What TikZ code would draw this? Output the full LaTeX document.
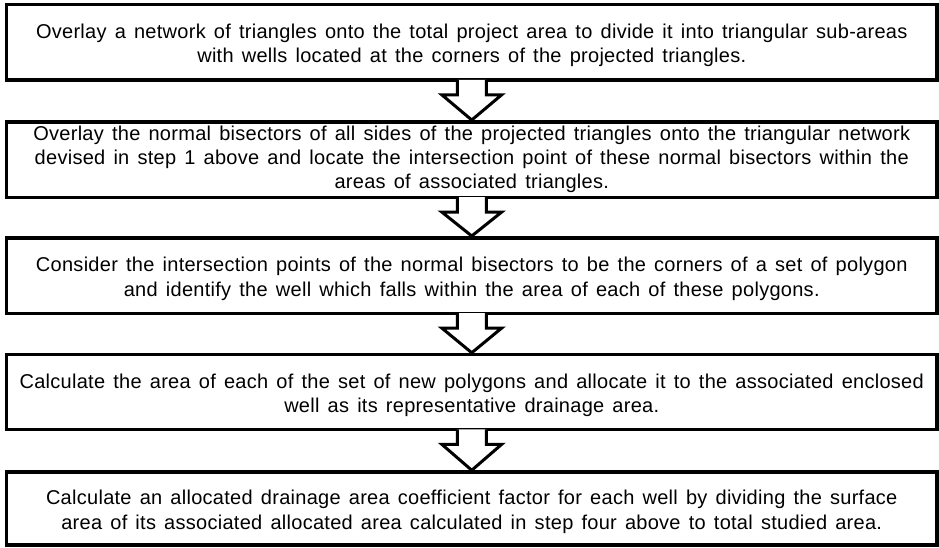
\documentclass[tikz,border=0pt]{standalone}
\usepackage{fontspec}
\setmainfont[LetterSpace=1.4,WordSpace=1.4]{Liberation Sans}
\usetikzlibrary{calc}
\newcommand\mytopstrut{\rule{0pt}{21pt}}
\begin{document}
\begin{tikzpicture}[x=1pt,y=-1pt,
  stepbox/.style={draw, line width=3.5pt, minimum width=930.5pt, minimum height=75.5pt,
    inner sep=0pt, align=center, font=\fontsize{20}{24.2}\selectfont},
  blockarrow/.style={draw, fill=white, line width=3pt, line join=miter}]
\useasboundingbox (0,0) rectangle (939,547);
\node[stepbox] (b1) at (471.75,42.25) {\mytopstrut Overlay a network of triangles onto the total project area to divide it into triangular sub-areas\\with wells located at the corners of the projected triangles.};
\node[stepbox] (b2) at (471.75,159.5) {Overlay the normal bisectors of all sides of the projected triangles onto the triangular network\\devised in step 1 above and locate the intersection point of these normal bisectors within the\\areas of associated triangles.};
\node[stepbox] (b3) at (471.75,275.5) {\mytopstrut Consider the intersection points of the normal bisectors to be the corners of a set of polygon\\and identify the well which falls within the area of each of these polygons.};
\node[stepbox, minimum height=75pt] (b4) at (471.75,392) {\mytopstrut Calculate the area of each of the set of new polygons and allocate it to the associated enclosed\\well as its representative drainage area.};
\node[stepbox, minimum height=73pt] (b5) at (471.75,508.5) {\mytopstrut Calculate an allocated drainage area coefficient factor for each well by dividing the surface\\area of its associated allocated area calculated in step four above to total studied area.};
\foreach \a/\b in {b1/b2,b2/b3,b3/b4,b4/b5}{
  \draw[blockarrow] ($(\a.south)+(-14.5,-1.8)$) -- ($(\a.south)+(-14.5,13)$) -- ($(\a.south)+(-30,13)$)
    -- (\b.north) -- ($(\a.south)+(30,13)$) -- ($(\a.south)+(14.5,13)$) -- ($(\a.south)+(14.5,-1.8)$);
}
\end{tikzpicture}
\end{document}
